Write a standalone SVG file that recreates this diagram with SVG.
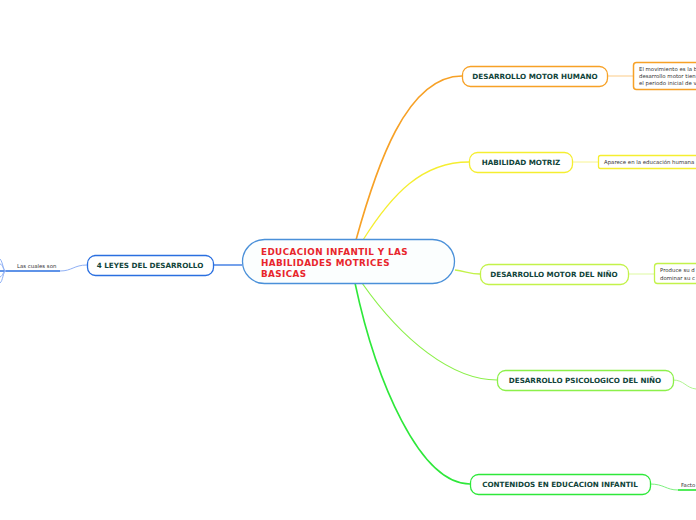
<svg xmlns="http://www.w3.org/2000/svg" width="696" height="520" viewBox="0 0 696 520">
<style>
.node{fill:#ffffff;stroke-width:1.3}
.lbl{font-family:"DejaVu Sans",Verdana,sans-serif;font-weight:bold;font-size:7.2px;fill:#10443a;text-anchor:middle}
.sm{font-family:"DejaVu Sans",Verdana,sans-serif;font-size:5.4px;fill:#333333}
.con{fill:none}
</style>
<rect width="696" height="520" fill="#ffffff"/>
<g id="connectors">
<path class="con" d="M356,240 C376,168 406,76 462,76" stroke="#f7a126" stroke-width="1.6"/>
<path class="con" d="M363,240 C392,194 422,162 469,162" stroke="#f5ee30" stroke-width="1.3"/>
<path class="con" d="M455,270 C465,271 470,274 480,274" stroke="#c3f24a" stroke-width="1.3"/>
<path class="con" d="M362,283 C402,340 452,380 497,380" stroke="#8cf04a" stroke-width="1.2"/>
<path class="con" d="M355,283 C376,382 420,484 470,484" stroke="#2ee83a" stroke-width="1.6"/>
<path class="con" d="M242,265 L213,265" stroke="#2a6fe0" stroke-width="1.3"/>
<path class="con" d="M607,76 L633,76" stroke="#fbd49a" stroke-width="1.2"/>
<path class="con" d="M572,162 L598,162" stroke="#f8f490" stroke-width="1"/>
<path class="con" d="M628,274 L654,274" stroke="#ddf9a0" stroke-width="1"/>
<path class="con" d="M673,380 C684,380 686,388 696,389" stroke="#b0f590" stroke-width="1"/>
<path class="con" d="M650,484 C664,484 666,490 678,490 L696,490" stroke="#7ef080" stroke-width="1"/>
<path class="con" d="M678,490 L696,490" stroke="#2ee83a" stroke-width="1.5"/>
<path class="con" d="M87,265 C74,265 72,271 60,271" stroke="#8fb0f5" stroke-width="1"/>
<path class="con" d="M0,271 L60,271" stroke="#2a6fe0" stroke-width="1.5"/>
<path class="con" d="M6,271 C3,271 3,262 0,259" stroke="#8fb0f5" stroke-width="1"/>
<path class="con" d="M6,271 C3,271 3,264 0,264" stroke="#8fb0f5" stroke-width="1"/>
<path class="con" d="M6,271 C3,271 3,276 0,277" stroke="#8fb0f5" stroke-width="1"/>
<path class="con" d="M6,271 C3,271 3,281 0,283" stroke="#8fb0f5" stroke-width="1"/>
</g>
<g id="central">
<rect x="242.5" y="239.5" width="212" height="44" rx="22" fill="#fbfefe" stroke="#4a90d9" stroke-width="1.3"/>
<text font-family="DejaVu Sans,Verdana,sans-serif" font-weight="bold" font-size="8.8" letter-spacing="0.4" fill="#e8262c">
<tspan x="261" y="254.5">EDUCACION INFANTIL Y LAS</tspan>
<tspan x="261" y="265.5">HABILIDADES MOTRICES</tspan>
<tspan x="261" y="276.5">BASICAS</tspan>
</text>
</g>
<g id="n1">
<rect class="node" x="462.5" y="66.5" width="145" height="20" rx="8" stroke="#f7a126"/>
<text class="lbl" x="535" y="79">DESARROLLO MOTOR HUMANO</text>
</g>
<g id="n1t">
<rect x="633.5" y="62.5" width="70" height="27" rx="3" fill="#ffffff" stroke="#f7a126" stroke-width="1.5"/>
<text class="sm"><tspan x="639" y="71">El movimiento es la b</tspan><tspan x="639" y="78">desarrollo motor tien</tspan><tspan x="639" y="85">el periodo inicial de v</tspan></text>
</g>
<g id="n2">
<rect class="node" x="469.5" y="152.5" width="103" height="20" rx="8" stroke="#f5ee30"/>
<text class="lbl" x="521" y="165">HABILIDAD MOTRIZ</text>
</g>
<g id="n2t">
<rect x="598.5" y="155.5" width="105" height="13" rx="2" fill="#ffffff" stroke="#f5ee30" stroke-width="1.3"/>
<text class="sm" x="604" y="164">Aparece en la educación humana</text>
</g>
<g id="n3">
<rect class="node" x="480.5" y="264.5" width="148" height="20" rx="8" stroke="#c3f24a"/>
<text class="lbl" x="554" y="277">DESARROLLO MOTOR DEL NIÑO</text>
</g>
<g id="n3t">
<rect x="654.5" y="263.5" width="50" height="20" rx="3" fill="#ffffff" stroke="#c3f24a" stroke-width="1.3"/>
<text class="sm"><tspan x="660" y="272">Produce su d</tspan><tspan x="660" y="279.5">dominar su c</tspan></text>
</g>
<g id="n4">
<rect class="node" x="497.5" y="370.5" width="176" height="20" rx="8" stroke="#8cf04a"/>
<text class="lbl" x="585" y="383">DESARROLLO PSICOLOGICO DEL NIÑO</text>
</g>
<g id="n5">
<rect class="node" x="470.5" y="474.5" width="180" height="20" rx="8" stroke="#2ee83a"/>
<text class="lbl" x="560" y="487">CONTENIDOS EN EDUCACION INFANTIL</text>
</g>
<g id="n5t">
<text class="sm" x="681" y="487">Facto</text>
</g>
<g id="n6">
<rect class="node" x="87.5" y="255.5" width="126" height="20" rx="8" stroke="#2a6fe0"/>
<text class="lbl" x="150" y="268">4 LEYES DEL DESARROLLO</text>
</g>
<g id="n6t">
<text class="sm" x="17" y="268">Las cuales son</text>
</g>
</svg>
